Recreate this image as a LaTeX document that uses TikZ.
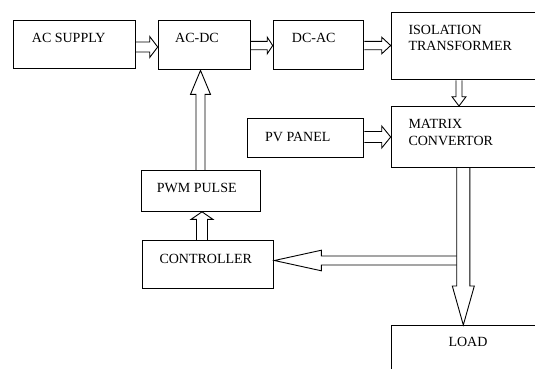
\documentclass[tikz,border=0pt]{standalone}
\usepackage{fontspec}
\setmainfont{Liberation Serif}
\usetikzlibrary{calc}
\tikzset{
  box/.style={draw, line width=1.1pt, inner sep=0pt, anchor=north west},
  txt/.style={inner sep=0pt, anchor=base west, font=\fontsize{14}{15.7}\selectfont, align=left},
  barrow/.style={draw, line width=0.9pt, line join=miter},
}
% horizontal arrows: start (x used), tip; shaft half, head half, head length
\newcommand\arrR[5]{\draw[barrow] let \p1=(#1),\p2=(#2) in (\x1,\y2+#3pt) -- (\x2-#5pt,\y2+#3pt) -- (\x2-#5pt,\y2+#4pt) -- (\x2,\y2) -- (\x2-#5pt,\y2-#4pt) -- (\x2-#5pt,\y2-#3pt) -- (\x1,\y2-#3pt);}
\newcommand\arrL[5]{\draw[barrow] let \p1=(#1),\p2=(#2) in (\x1,\y2+#3pt) -- (\x2+#5pt,\y2+#3pt) -- (\x2+#5pt,\y2+#4pt) -- (\x2,\y2) -- (\x2+#5pt,\y2-#4pt) -- (\x2+#5pt,\y2-#3pt) -- (\x1,\y2-#3pt);}
\newcommand\arrU[5]{\draw[barrow] let \p1=(#1),\p2=(#2) in (\x2-#3pt,\y1) -- (\x2-#3pt,\y2-#5pt) -- (\x2-#4pt,\y2-#5pt) -- (\x2,\y2) -- (\x2+#4pt,\y2-#5pt) -- (\x2+#3pt,\y2-#5pt) -- (\x2+#3pt,\y1);}
\newcommand\arrD[5]{\draw[barrow] let \p1=(#1),\p2=(#2) in (\x2-#3pt,\y1) -- (\x2-#3pt,\y2+#5pt) -- (\x2-#4pt,\y2+#5pt) -- (\x2,\y2) -- (\x2+#4pt,\y2+#5pt) -- (\x2+#3pt,\y2+#5pt) -- (\x2+#3pt,\y1);}
\begin{document}
\begin{tikzpicture}[x=1pt,y=-1pt]
\path[use as bounding box, clip] (0,0) rectangle (535,368);
\fill[white] (0,0) rectangle (535,368);
% boxes
\node[box, minimum width=121.7pt, minimum height=48.3pt] (acs) at (13.3,20) {};
\node[box, minimum width=91.8pt, minimum height=49.3pt] (acdc) at (157.7,20) {};
\node[box, minimum width=90.6pt, minimum height=49.3pt] (dcac) at (272.7,20) {};
\node[box, minimum width=160pt, minimum height=67.6pt] (iso) at (390.7,11.7) {};
\node[box, minimum width=160pt, minimum height=60.5pt] (mat) at (390.7,106) {};
\node[box, minimum width=116.6pt, minimum height=39pt] (pv) at (246.7,118.3) {};
\node[box, minimum width=119.3pt, minimum height=40.7pt] (pwm) at (140.7,170) {};
\node[box, minimum width=131.6pt, minimum height=48.3pt] (ctrl) at (141.7,240) {};
\node[box, minimum width=160pt, minimum height=60pt] (load) at (390.7,325) {};
% texts
\node[txt] (tacs) at (31.7,42.7) {AC SUPPLY};
\node[txt] (tacdc) at (175,42.7) {AC-DC};
\node[txt] (tdcac) at (291.7,42.7) {DC-AC};
\node[txt] (tiso1) at (408.3,34.3) {ISOLATION};
\node[txt] (tiso2) at (408.3,50) {TRANSFORMER};
\node[txt] (tmat1) at (408.3,128.3) {MATRIX};
\node[txt] (tmat2) at (408.3,145.7) {CONVERTOR};
\node[txt] (tpv) at (265,141) {PV PANEL};
\node[txt] (tpwm) at (156.7,192.7) {PWM PULSE};
\node[txt] (tctrl) at (159.3,263.3) {CONTROLLER};
\node[txt] (tload) at (448.3,346.7) {LOAD};
% arrows
\arrR{acs.east}{[yshift=-27pt]acdc.north west}{5}{10.5}{8}
\arrR{acdc.east}{[yshift=-25.5pt]dcac.north west}{4.2}{8.3}{5.5}
\arrR{dcac.east}{[yshift=-33.8pt]iso.north west}{4.2}{8.3}{9}
\arrR{pv.east}{[yshift=-31pt]mat.north west}{5.5}{11}{9}
\arrD{iso.south}{[xshift=68.3pt]mat.north west}{3}{7}{9.3}
\arrU{pwm.north}{[xshift=42.8pt]acdc.south west}{4.5}{10}{24}
\arrU{ctrl.north}{[xshift=61.3pt]pwm.south west}{5.5}{11}{7.6}
\arrD{mat.south}{[xshift=72.6pt]load.north west}{6.6}{11}{39}
\coordinate (jn) at ([xshift=66pt]mat.south west);
\arrL{jn}{[yshift=-20.5pt]ctrl.north east}{4.5}{10.3}{47}
\end{tikzpicture}
\end{document}
